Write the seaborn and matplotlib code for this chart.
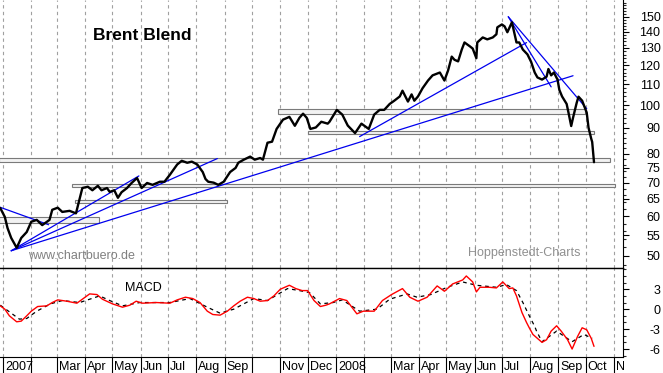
import pandas as pd
import matplotlib.pyplot as plt
import matplotlib.dates as mdates
import matplotlib.transforms as mtransforms
from matplotlib.patches import Rectangle
from matplotlib.ticker import FixedLocator, NullFormatter
import seaborn as sns

# Brent price (USD)
price_dates = [
    "2006-12-29", "2007-01-03", "2007-01-06", "2007-01-10", "2007-01-16", "2007-01-21",
    "2007-01-27", "2007-02-01", "2007-02-07", "2007-02-13", "2007-02-21", "2007-02-24",
    "2007-03-02", "2007-03-07", "2007-03-15", "2007-03-22", "2007-03-29", "2007-04-04",
    "2007-04-09", "2007-04-15", "2007-04-19", "2007-04-25", "2007-04-28", "2007-05-03",
    "2007-05-07", "2007-05-11", "2007-05-17", "2007-05-22", "2007-05-28", "2007-06-02",
    "2007-06-08", "2007-06-14", "2007-06-22", "2007-06-27", "2007-07-03", "2007-07-11",
    "2007-07-16", "2007-07-22", "2007-07-27", "2007-08-02", "2007-08-08", "2007-08-11",
    "2007-08-14", "2007-08-20", "2007-08-25", "2007-08-31", "2007-09-07", "2007-09-13",
    "2007-09-16", "2007-09-22", "2007-09-29", "2007-10-04", "2007-10-10", "2007-10-13",
    "2007-10-18", "2007-10-23", "2007-10-28", "2007-11-04", "2007-11-11", "2007-11-17",
    "2007-11-22", "2007-11-26", "2007-11-30", "2007-12-04", "2007-12-10", "2007-12-16",
    "2007-12-23", "2007-12-25", "2008-01-02", "2008-01-08", "2008-01-14", "2008-01-22",
    "2008-01-29", "2008-02-06", "2008-02-12", "2008-02-18", "2008-02-23", "2008-02-29",
    "2008-03-05", "2008-03-11", "2008-03-14", "2008-03-20", "2008-03-24", "2008-03-27",
    "2008-03-31", "2008-04-05", "2008-04-11", "2008-04-16", "2008-04-24", "2008-04-29",
    "2008-05-03", "2008-05-07", "2008-05-10", "2008-05-14", "2008-05-18", "2008-05-21",
    "2008-05-27", "2008-05-30", "2008-06-03", "2008-06-04", "2008-06-10", "2008-06-15",
    "2008-06-21", "2008-06-25", "2008-06-26", "2008-07-01", "2008-07-04", "2008-07-07",
    "2008-07-12", "2008-07-17", "2008-07-20", "2008-07-24", "2008-07-29", "2008-08-02",
    "2008-08-06", "2008-08-09", "2008-08-14", "2008-08-19", "2008-08-21", "2008-08-24",
    "2008-08-27", "2008-08-31", "2008-09-02", "2008-09-05", "2008-09-10", "2008-09-12",
    "2008-09-15", "2008-09-17", "2008-09-21", "2008-09-23", "2008-09-27", "2008-10-02",
    "2008-10-04", "2008-10-07", "2008-10-08", "2008-10-10",
]
price_values = [
    62.3, 59.8, 56.8, 54.3, 51.9, 54.3,
    55.8, 58.5, 59.0, 57.6, 59.0, 61.8,
    62.4, 61.2, 61.5, 60.8, 68.3, 68.7,
    67.6, 69.0, 67.6, 68.3, 67.1, 67.6,
    65.3, 67.0, 68.3, 69.9, 71.5, 68.3,
    69.9, 69.3, 70.3, 70.3, 72.6, 76.1,
    77.4, 76.7, 77.1, 76.1, 73.5, 71.2,
    70.3, 70.0, 69.3, 70.3, 73.5, 74.9,
    76.7, 77.8, 78.9, 77.8, 78.4, 77.8,
    84.1, 84.5, 89.6, 93.5, 94.7, 90.9,
    94.3, 96.1, 94.3, 89.6, 90.2, 92.6,
    91.8, 92.6, 97.8, 95.7, 91.0, 87.9,
    91.8, 89.6, 95.7, 97.8, 97.8, 100.5,
    102.0, 104.0, 106.8, 101.6, 105.0, 102.0,
    104.0, 108.0, 111.9, 114.6, 116.1, 111.9,
    117.2, 124.9, 123.1, 122.2, 129.0, 133.3,
    130.9, 129.6, 124.0, 133.3, 136.4, 135.2,
    136.4, 138.4, 142.9, 144.8, 143.5, 139.7,
    146.2, 133.3, 133.3, 129.0, 126.2, 122.0,
    116.1, 113.5, 112.4, 113.9, 118.0, 114.6,
    116.1, 112.4, 107.2, 104.0, 100.5, 96.6,
    90.8, 94.3, 101.0, 103.9, 102.0, 96.6,
    90.1, 85.6, 84.4, 76.9,
]

# MACD line (red) and signal line (black dashed)
macd_dates = [
    "2006-12-29", "2007-01-03", "2007-01-08", "2007-01-16", "2007-01-21", "2007-01-27",
    "2007-02-01", "2007-02-08", "2007-02-18", "2007-02-24", "2007-03-02", "2007-03-12",
    "2007-03-23", "2007-03-29", "2007-04-06", "2007-04-14", "2007-04-20", "2007-05-01",
    "2007-05-12", "2007-05-20", "2007-05-27", "2007-06-03", "2007-06-18", "2007-07-03",
    "2007-07-11", "2007-07-20", "2007-07-28", "2007-08-05", "2007-08-13", "2007-08-19",
    "2007-08-27", "2007-09-04", "2007-09-11", "2007-09-18", "2007-09-26", "2007-10-03",
    "2007-10-10", "2007-10-18", "2007-10-25", "2007-11-01", "2007-11-11", "2007-11-18",
    "2007-11-25", "2007-12-01", "2007-12-08", "2007-12-15", "2007-12-21", "2007-12-25",
    "2008-01-05", "2008-01-13", "2008-01-24", "2008-01-31", "2008-02-12", "2008-02-21",
    "2008-03-02", "2008-03-14", "2008-03-22", "2008-03-31", "2008-04-10", "2008-04-21",
    "2008-04-29", "2008-05-08", "2008-05-19", "2008-05-23", "2008-05-30", "2008-06-03",
    "2008-06-07", "2008-06-17", "2008-06-25", "2008-07-02", "2008-07-09", "2008-07-13",
    "2008-07-17", "2008-07-23", "2008-07-28", "2008-07-31", "2008-08-04", "2008-08-14",
    "2008-08-19", "2008-08-24", "2008-08-30", "2008-09-04", "2008-09-11", "2008-09-16",
    "2008-09-22", "2008-09-27", "2008-10-02", "2008-10-07", "2008-10-10",
]
macd_values = [
    0.5, 0.0, -1.0, -1.9, -1.8, -1.0,
    -0.3, 0.4, 0.5, 1.0, 1.4, 1.2,
    0.9, 1.5, 2.3, 2.2, 1.5, 0.8,
    0.3, 0.6, 1.2, 0.9, 1.0, 0.9,
    1.4, 1.8, 1.6, 1.0, -0.3, -0.8,
    -0.9, -0.3, 0.5, 1.2, 1.8, 1.6,
    1.2, 1.3, 2.0, 3.0, 3.6, 3.1,
    2.8, 2.8, 1.3, 0.4, 0.6, 0.8,
    1.6, 1.3, -0.7, -0.3, -0.3, 1.3,
    2.2, 3.1, 1.8, 1.2, 1.8, 3.5,
    2.7, 3.8, 4.4, 5.0, 4.1, 2.6,
    3.3, 3.3, 3.2, 4.1, 3.1, 3.2,
    2.0, -0.5, -2.0, -2.8, -3.8, -5.0,
    -4.6, -3.3, -2.5, -3.3, -4.6, -6.0,
    -4.1, -2.8, -3.1, -4.4, -5.6,
]
signal_dates = [
    "2006-12-29", "2007-01-08", "2007-01-19", "2007-01-27", "2007-02-07", "2007-02-22",
    "2007-03-07", "2007-03-26", "2007-04-17", "2007-04-28", "2007-05-12", "2007-05-31",
    "2007-07-03", "2007-07-25", "2007-08-13", "2007-08-27", "2007-09-11", "2007-10-03",
    "2007-10-18", "2007-11-09", "2007-11-22", "2007-12-03", "2007-12-15", "2007-12-29",
    "2008-01-08", "2008-01-27", "2008-02-15", "2008-02-29", "2008-03-19", "2008-03-30",
    "2008-04-14", "2008-05-02", "2008-05-19", "2008-06-03", "2008-06-25", "2008-07-06",
    "2008-07-17", "2008-07-24", "2008-07-31", "2008-08-06", "2008-08-08", "2008-08-14",
    "2008-08-30", "2008-09-16", "2008-09-29", "2008-10-08",
]
signal_values = [
    0.6, -0.4, -1.5, -1.4, -0.3, 0.8,
    1.3, 1.0, 2.0, 1.3, 0.5, 1.0,
    1.0, 1.6, 0.3, -0.6, 0.0, 1.6,
    1.3, 3.1, 2.8, 2.5, 0.8, 1.0,
    1.4, -0.3, 0.0, 1.5, 2.3, 1.8,
    2.2, 3.3, 4.1, 3.6, 3.3, 3.7,
    2.8, 1.0, -1.0, -2.6, -3.3, -4.9,
    -3.3, -4.9, -3.8, -4.4,
]

# blue trend lines: start date, start price, end date, end price
trend_lines = [
    ("2006-12-28", 62.6, "2007-02-20", 57.7),
    ("2007-01-10", 51.2, "2007-05-30", 72.2),
    ("2007-01-10", 51.2, "2007-08-24", 78.2),
    ("2007-01-10", 51.2, "2008-09-17", 114.4),
    ("2008-01-27", 86.5, "2008-07-28", 133.2),
    ("2008-07-08", 150.0, "2008-08-24", 108.7),
    ("2008-07-08", 150.0, "2008-10-02", 98.3),
]
# grey support/resistance zones: start, end, low, high
zones = [
    ("2006-12-28", "2007-04-16", 58.1, 59.7),
    ("2007-03-18", "2008-11-02", 68.5, 69.6),
    ("2007-03-21", "2007-09-04", 63.9, 64.7),
    ("2006-12-28", "2008-10-27", 77.1, 78.3),
    ("2007-10-29", "2008-09-30", 96.1, 98.3),
    ("2007-12-01", "2008-10-10", 87.5, 88.9),
]

month_labels = ["2007", "", "Mar", "Apr", "May", "Jun", "Jul", "Aug", "Sep", "", "Nov", "Dec",
                "2008", "", "Mar", "Apr", "May", "Jun", "Jul", "Aug", "Sep", "Oct", "N"]
price_ticks = [50, 55, 60, 65, 70, 75, 80, 90, 100, 110, 120, 130, 140, 150]
macd_ticks = [-6, -3, 0, 3]

sns.set_style("white")
plt.rcParams["font.family"] = ["Liberation Sans", "DejaVu Sans"]

price = pd.DataFrame({"date": pd.to_datetime(price_dates), "price": price_values})
macd = pd.DataFrame({"date": pd.to_datetime(macd_dates), "macd": macd_values})
signal = pd.DataFrame({"date": pd.to_datetime(signal_dates), "signal": signal_values})
month_ticks = pd.date_range("2007-01-01", periods=len(month_labels), freq="MS")

fig = plt.figure(figsize=(6.63, 3.73), dpi=100)
W, H = 663, 373
ax = fig.add_axes([0, 105 / H, 623 / W, 268 / H])
ax2 = fig.add_axes([0, 16 / H, 623 / W, 89 / H], sharex=ax)

# zones and trend lines
for start, end, low, high in zones:
    x0 = mdates.date2num(pd.Timestamp(start))
    x1 = mdates.date2num(pd.Timestamp(end))
    ax.add_patch(Rectangle((x0, low), x1 - x0, high - low, facecolor="#f2f2f2",
                           edgecolor="#7a7a7a", lw=0.8, zorder=2))
for d0, p0, d1, p1 in trend_lines:
    ax.plot([pd.Timestamp(d0), pd.Timestamp(d1)], [p0, p1], color="#0000ee", lw=0.9, zorder=3)

sns.lineplot(data=price, x="date", y="price", ax=ax, color="black", lw=1.7, zorder=4)

ax.set_yscale("log")
ax.set_ylim(47.3, 162)
ax.set_xlim(pd.Timestamp("2006-12-28 17:00"), pd.Timestamp("2008-11-10 19:00"))

sns.lineplot(data=macd, x="date", y="macd", ax=ax2, color="red", lw=1.0, zorder=4)
sns.lineplot(data=signal, x="date", y="signal", ax=ax2, color="black", lw=0.9,
             linestyle=(0, (3, 3)), zorder=3)
ax2.set_ylim(-7.2, 6.2)

for a in (ax, ax2):
    a.set_xlabel("")
    a.set_ylabel("")
    a.set_xticks(month_ticks)
    a.grid(axis="x", color="#a0a0a0", linestyle=(0, (3, 3)), lw=0.8)
    a.grid(axis="y", visible=False)
    a.yaxis.tick_right()
    a.spines["left"].set_visible(False)
    a.spines["right"].set_color("black")
    a.spines["bottom"].set_color("black")
    a.tick_params(axis="y", which="major", direction="out", length=4.5, width=0.8,
                  pad=22.5, labelsize=9, colors="black", right=True)
    a.tick_params(axis="y", which="minor", direction="out", length=2.3, width=0.8, right=True)

ax.spines["top"].set_visible(False)
ax2.spines["top"].set_visible(True)
ax2.spines["top"].set_color("black")
ax2.spines["top"].set_linewidth(1.0)

ax.yaxis.set_major_locator(FixedLocator(price_ticks))
ax.yaxis.set_minor_locator(FixedLocator(list(range(48, 162, 2))))
ax.set_yticklabels([str(t) for t in price_ticks])
ax.yaxis.set_minor_formatter(NullFormatter())
for lab in ax.get_yticklabels():
    lab.set_horizontalalignment("right")

ax2.yaxis.set_major_locator(FixedLocator(macd_ticks))
ax2.yaxis.set_minor_locator(FixedLocator(list(range(-7, 7))))
ax2.set_yticklabels([str(t) for t in macd_ticks])
for lab in ax2.get_yticklabels():
    lab.set_horizontalalignment("right")

ax.tick_params(axis="x", length=0, labelbottom=False)
ax2.tick_params(axis="x", direction="out", length=11.5, width=0.8, colors="black",
                labelbottom=False, bottom=True)

# month labels to the right of each tick
offset = mtransforms.offset_copy(ax2.get_xaxis_transform(), fig=fig, x=2, y=0, units="dots")
for d, lab in zip(month_ticks, month_labels):
    if lab:
        ax2.text(d, -0.11, lab, transform=offset, ha="left", va="center", fontsize=9,
                 color="black", clip_on=False)

ax.text(0.228, 0.868, "Brent Blend", transform=ax.transAxes, ha="center", va="center",
        fontsize=12.5, fontweight="bold", color="black")
ax.text(0.045, 0.045, "www.chartbuero.de", transform=ax.transAxes, ha="left", va="center",
        fontsize=9, color="#808080")
ax.text(0.752, 0.055, "Hoppenstedt-Charts", transform=ax.transAxes, ha="left", va="center",
        fontsize=9, color="#909090")
ax2.text(0.2, 0.775, "MACD", transform=ax2.transAxes, ha="left", va="center",
         fontsize=9, color="black")

fig.savefig("out.png", dpi=100)
